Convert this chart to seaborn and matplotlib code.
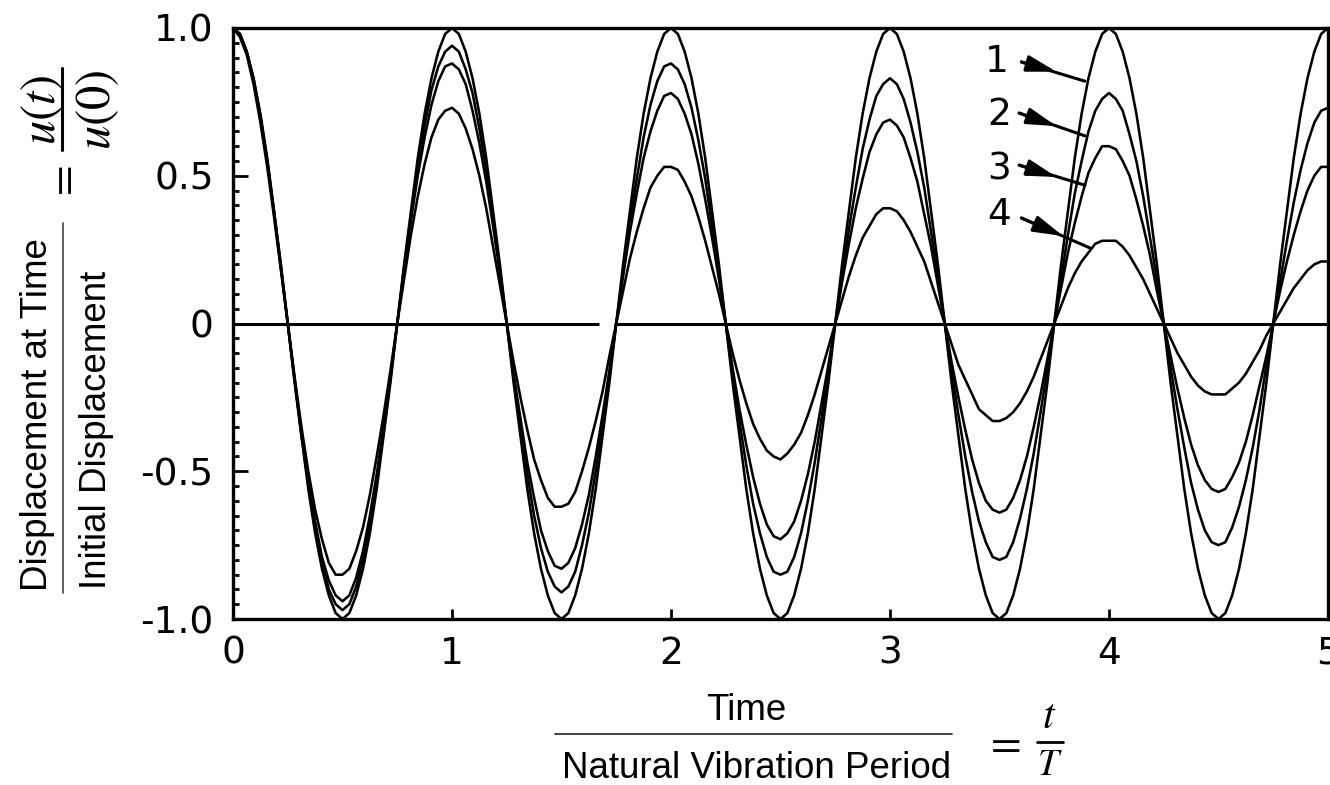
import numpy as np
import pandas as pd
import matplotlib.pyplot as plt
import seaborn as sns
from matplotlib.lines import Line2D
from matplotlib.ticker import MultipleLocator

# sample times: 32 readings per natural vibration period, t/T from 0 to 5
time = np.linspace(0, 5, 161)

# u(t)/u(0) (one period per line)
curve_1 = [1.00, 0.98, 0.92, 0.83, 0.71, 0.56, 0.38, 0.20, 0.00, -0.20, -0.38, -0.56, -0.71, -0.83, -0.92, -0.98,
           -1.00, -0.98, -0.92, -0.83, -0.71, -0.56, -0.38, -0.20, 0.00, 0.20, 0.38, 0.56, 0.71, 0.83, 0.92, 0.98,
           1.00, 0.98, 0.92, 0.83, 0.71, 0.56, 0.38, 0.20, 0.00, -0.20, -0.38, -0.56, -0.71, -0.83, -0.92, -0.98,
           -1.00, -0.98, -0.92, -0.83, -0.71, -0.56, -0.38, -0.20, 0.00, 0.20, 0.38, 0.56, 0.71, 0.83, 0.92, 0.98,
           1.00, 0.98, 0.92, 0.83, 0.71, 0.56, 0.38, 0.20, 0.00, -0.20, -0.38, -0.56, -0.71, -0.83, -0.92, -0.98,
           -1.00, -0.98, -0.92, -0.83, -0.71, -0.56, -0.38, -0.20, 0.00, 0.20, 0.38, 0.56, 0.71, 0.83, 0.92, 0.98,
           1.00, 0.98, 0.92, 0.83, 0.71, 0.56, 0.38, 0.20, 0.00, -0.20, -0.38, -0.56, -0.71, -0.83, -0.92, -0.98,
           -1.00, -0.98, -0.92, -0.83, -0.71, -0.56, -0.38, -0.20, 0.00, 0.20, 0.38, 0.56, 0.71, 0.83, 0.92, 0.98,
           1.00, 0.98, 0.92, 0.83, 0.71, 0.56, 0.38, 0.20, 0.00, -0.20, -0.38, -0.56, -0.71, -0.83, -0.92, -0.98,
           -1.00, -0.98, -0.92, -0.83, -0.71, -0.56, -0.38, -0.20, 0.00, 0.20, 0.38, 0.56, 0.71, 0.83, 0.92, 0.98,
           1.00]
curve_2 = [1.00, 0.98, 0.92, 0.83, 0.70, 0.55, 0.38, 0.19, 0.00, -0.19, -0.38, -0.54, -0.69, -0.81, -0.90, -0.95,
           -0.97, -0.95, -0.89, -0.80, -0.68, -0.53, -0.37, -0.19, 0.00, 0.19, 0.36, 0.53, 0.67, 0.79, 0.87, 0.92,
           0.94, 0.92, 0.86, 0.78, 0.66, 0.52, 0.36, 0.18, 0.00, -0.18, -0.35, -0.51, -0.65, -0.76, -0.84, -0.89,
           -0.91, -0.89, -0.84, -0.75, -0.64, -0.50, -0.34, -0.17, 0.00, 0.17, 0.34, 0.49, 0.63, 0.74, 0.82, 0.87,
           0.88, 0.86, 0.81, 0.73, 0.62, 0.49, 0.33, 0.17, 0.00, -0.17, -0.33, -0.48, -0.61, -0.71, -0.79, -0.84,
           -0.85, -0.84, -0.79, -0.71, -0.60, -0.47, -0.32, -0.16, 0.00, 0.16, 0.32, 0.46, 0.59, 0.69, 0.77, 0.81,
           0.83, 0.81, 0.76, 0.68, 0.58, 0.46, 0.31, 0.16, 0.00, -0.16, -0.31, -0.45, -0.57, -0.67, -0.74, -0.79,
           -0.80, -0.79, -0.74, -0.66, -0.56, -0.44, -0.30, -0.15, 0.00, 0.15, 0.30, 0.44, 0.55, 0.65, 0.72, 0.76,
           0.78, 0.76, 0.72, 0.64, 0.55, 0.43, 0.29, 0.15, 0.00, -0.15, -0.29, -0.42, -0.54, -0.63, -0.70, -0.74,
           -0.75, -0.74, -0.69, -0.62, -0.53, -0.42, -0.29, -0.14, 0.00, 0.14, 0.28, 0.41, 0.52, 0.61, 0.68, 0.72,
           0.73]
curve_3 = [1.00, 0.98, 0.92, 0.82, 0.70, 0.55, 0.37, 0.19, 0.00, -0.19, -0.37, -0.53, -0.67, -0.79, -0.87, -0.92,
           -0.94, -0.92, -0.86, -0.77, -0.65, -0.51, -0.35, -0.18, 0.00, 0.18, 0.35, 0.50, 0.63, 0.74, 0.82, 0.87,
           0.88, 0.86, 0.81, 0.72, 0.61, 0.48, 0.33, 0.17, 0.00, -0.17, -0.32, -0.47, -0.59, -0.70, -0.77, -0.82,
           -0.83, -0.81, -0.76, -0.68, -0.58, -0.45, -0.31, -0.16, 0.00, 0.16, 0.31, 0.44, 0.56, 0.65, 0.72, 0.77,
           0.78, 0.76, 0.71, 0.64, 0.54, 0.42, 0.29, 0.15, 0.00, -0.15, -0.29, -0.41, -0.52, -0.61, -0.68, -0.72,
           -0.73, -0.71, -0.67, -0.60, -0.51, -0.40, -0.27, -0.14, 0.00, 0.14, 0.27, 0.39, 0.49, 0.58, 0.64, 0.68,
           0.69, 0.67, 0.63, 0.56, 0.48, 0.37, 0.26, 0.13, 0.00, -0.13, -0.25, -0.36, -0.46, -0.54, -0.60, -0.63,
           -0.64, -0.63, -0.59, -0.53, -0.45, -0.35, -0.24, -0.12, 0.00, 0.12, 0.24, 0.34, 0.43, 0.51, 0.56, 0.60,
           0.60, 0.59, 0.55, 0.50, 0.42, 0.33, 0.23, 0.11, 0.00, -0.11, -0.22, -0.32, -0.41, -0.48, -0.53, -0.56,
           -0.57, -0.56, -0.52, -0.47, -0.40, -0.31, -0.21, -0.11, 0.00, 0.11, 0.21, 0.30, 0.38, 0.45, 0.50, 0.53,
           0.53]
curve_4 = [1.00, 0.97, 0.91, 0.81, 0.68, 0.53, 0.36, 0.18, 0.00, -0.18, -0.35, -0.50, -0.63, -0.73, -0.81, -0.85,
           -0.85, -0.83, -0.77, -0.69, -0.58, -0.45, -0.31, -0.16, 0.00, 0.15, 0.30, 0.43, 0.54, 0.63, 0.69, 0.72,
           0.73, 0.71, 0.66, 0.59, 0.50, 0.39, 0.26, 0.13, 0.00, -0.13, -0.25, -0.36, -0.46, -0.53, -0.59, -0.62,
           -0.62, -0.61, -0.57, -0.50, -0.42, -0.33, -0.23, -0.11, 0.00, 0.11, 0.22, 0.31, 0.39, 0.46, 0.50, 0.53,
           0.53, 0.52, 0.48, 0.43, 0.36, 0.28, 0.19, 0.10, 0.00, -0.10, -0.19, -0.27, -0.34, -0.39, -0.43, -0.45,
           -0.46, -0.44, -0.41, -0.37, -0.31, -0.24, -0.16, -0.08, 0.00, 0.08, 0.16, 0.23, 0.29, 0.33, 0.37, 0.39,
           0.39, 0.38, 0.35, 0.31, 0.26, 0.21, 0.14, 0.07, 0.00, -0.07, -0.14, -0.19, -0.24, -0.29, -0.31, -0.33,
           -0.33, -0.32, -0.30, -0.27, -0.23, -0.18, -0.12, -0.06, 0.00, 0.06, 0.12, 0.17, 0.21, 0.24, 0.27, 0.28,
           0.28, 0.28, 0.26, 0.23, 0.19, 0.15, 0.10, 0.05, 0.00, -0.05, -0.10, -0.14, -0.18, -0.21, -0.23, -0.24,
           -0.24, -0.24, -0.22, -0.20, -0.17, -0.13, -0.09, -0.04, 0.00, 0.04, 0.08, 0.12, 0.15, 0.18, 0.20, 0.21,
           0.21]
curve_names = ['1', '2', '3', '4']

x_ticks = [0, 1, 2, 3, 4, 5]
x_tick_labels = ['0', '1', '2', '3', '4', '5']
y_ticks = [-1.0, -0.5, 0.0, 0.5, 1.0]
y_tick_labels = ['-1.0', '-0.5', '0', '0.5', '1.0']

# the zero axis line in the scan has a small break near t/T = 1.7
zero_line_y = [0.0, 0.0]
zero_line_starts = [0.0, 1.74]
zero_line_ends = [1.67, 5.0]

frames = []
for name, vals in zip(curve_names, [curve_1, curve_2, curve_3, curve_4]):
    frames.append(pd.DataFrame({'t': time, 'u': vals, 'curve': name}))
data = pd.concat(frames, ignore_index=True)

sns.set_style('white')
plt.rcParams['font.family'] = ['DejaVu Sans']
plt.rcParams['mathtext.fontset'] = 'stix'
plt.rcParams['text.color'] = 'black'

W, H = 1330, 785
fig = plt.figure(figsize=(W / 100, H / 100), dpi=100)


def fx(px):
    return px / W


def fy(py):
    return 1 - py / H


ax = fig.add_axes([fx(233), fy(619), fx(1328 - 233), (619 - 28) / H])

sns.lineplot(data=data, x='t', y='u', hue='curve', palette=['black'] * 4,
             estimator=None, sort=False, legend=False, linewidth=1.85, ax=ax)
ax.hlines(zero_line_y, zero_line_starts, zero_line_ends, colors='black', linewidth=2.2)

ax.set_xlim(0, 5)
ax.set_ylim(-1, 1)
ax.set_xticks(x_ticks)
ax.set_xticklabels(x_tick_labels)
ax.set_yticks(y_ticks)
ax.set_yticklabels(y_tick_labels)
ax.yaxis.set_minor_locator(MultipleLocator(0.05))
ax.set_xlabel('')
ax.set_ylabel('')

ax.tick_params(axis='y', which='major', direction='in', length=11, width=2,
               pad=14, labelsize=27, colors='black', left=True)
ax.tick_params(axis='y', which='minor', direction='in', length=4.5, width=2,
               colors='black', left=True)
ax.tick_params(axis='x', which='major', direction='in', length=7, width=2,
               pad=12, labelsize=27, colors='black', bottom=True)
for s in ax.spines.values():
    s.set_visible(True)
    s.set_color('black')
    s.set_linewidth(2.4)

# curve numbers with arrows
labels_at = [(3.49, 0.885), (3.50, 0.705), (3.50, 0.52), (3.50, 0.367)]
arrow_from = [(3.60, 0.885), (3.59, 0.712), (3.59, 0.536), (3.60, 0.357)]
arrow_head = [(3.76, 0.852), (3.76, 0.668), (3.76, 0.496), (3.79, 0.296)]
arrow_tip = [(3.89, 0.82), (3.89, 0.635), (3.89, 0.468), (3.915, 0.255)]
for name, lp, a0, ah, a1 in zip(curve_names, labels_at, arrow_from, arrow_head, arrow_tip):
    ax.text(lp[0], lp[1], name, fontsize=27, ha='center', va='center', color='black')
    ax.annotate('', xy=a1, xytext=a0,
                arrowprops=dict(arrowstyle='-', lw=2.2, color='black',
                                shrinkA=0, shrinkB=0))
    ax.annotate('', xy=ah, xytext=a0,
                arrowprops=dict(arrowstyle='-|>,head_length=0.9,head_width=0.25',
                                lw=2.2, color='black', shrinkA=0, shrinkB=0,
                                mutation_scale=20))

# y label: fraction written as text, rotated
lab_font = dict(family='Liberation Sans', fontsize=26.5, rotation=90, color='black')
fig.text(fx(38), fy(591), 'Displacement at Time', ha='center', va='bottom', **lab_font)
fig.text(fx(97), fy(589), 'Initial Displacement', ha='center', va='bottom', **lab_font)
fig.add_artist(Line2D([fx(63), fx(63)], [fy(223), fy(593)], color='#555555', lw=1.3))
fig.text(fx(62), fy(184), r'$=$', ha='center', va='center', rotation=90, fontsize=32)
fig.text(fx(42), fy(110), r'$u(t)$', ha='center', va='center', rotation=90, fontsize=35)
fig.text(fx(97), fy(110), r'$u(0)$', ha='center', va='center', rotation=90, fontsize=35)
fig.add_artist(Line2D([fx(62), fx(62)], [fy(68), fy(150)], color='black', lw=2.2))

# x label
fig.text(fx(746), fy(720), 'Time', ha='center', va='baseline',
         family='Liberation Sans', fontsize=26.5)
fig.text(fx(757), fy(778), 'Natural Vibration Period', ha='center', va='baseline',
         family='Liberation Sans', fontsize=26.5)
fig.add_artist(Line2D([fx(555), fx(952)], [fy(734), fy(734)], color='#333333', lw=1.3))
fig.text(fx(1002), fy(742), r'$=$', ha='center', va='center', fontsize=32)
fig.text(fx(1049), fy(728), r'$t$', ha='center', va='baseline', fontsize=30)
fig.text(fx(1050), fy(775), r'$T$', ha='center', va='baseline', fontsize=27)
fig.add_artist(Line2D([fx(1037), fx(1063)], [fy(742), fy(742)], color='black', lw=2))

fig.savefig('out.png', dpi=100)
plt.close(fig)
